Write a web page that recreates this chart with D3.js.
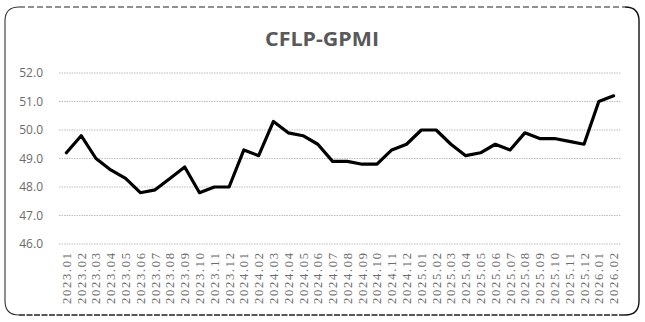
<!DOCTYPE html>
<html>
<head>
<meta charset="utf-8">
<script src="https://cdn.jsdelivr.net/npm/d3@7"></script>
<style>
  html, body { margin: 0; padding: 0; background: #fff; }
  svg { display: block; }
</style>
</head>
<body>
<svg id="chart"></svg>
<script>
'use strict';

const WIDTH = 645;
const HEIGHT = 322;

const months = [
  '2023.01', '2023.02', '2023.03', '2023.04', '2023.05', '2023.06', '2023.07', '2023.08',
  '2023.09', '2023.10', '2023.11', '2023.12', '2024.01', '2024.02', '2024.03', '2024.04',
  '2024.05', '2024.06', '2024.07', '2024.08', '2024.09', '2024.10', '2024.11', '2024.12',
  '2025.01', '2025.02', '2025.03', '2025.04', '2025.05', '2025.06', '2025.07', '2025.08',
  '2025.09', '2025.10', '2025.11', '2025.12', '2026.01', '2026.02',
];

const gpmi = [
  49.2, 49.8, 49.0, 48.6, 48.3, 47.8, 47.9, 48.3,
  48.7, 47.8, 48.0, 48.0, 49.3, 49.1, 50.3, 49.9,
  49.8, 49.5, 48.9, 48.9, 48.8, 48.8, 49.3, 49.5,
  50.0, 50.0, 49.5, 49.1, 49.2, 49.5, 49.3, 49.9,
  49.7, 49.7, 49.6, 49.5, 51.0, 51.2,
];

const yTicks = [46, 47, 48, 49, 50, 51, 52];

const PLOT = { left: 59, right: 621, top: 73, bottom: 244 };

const svg = d3.select('#chart')
  .attr('width', WIDTH)
  .attr('height', HEIGHT)
  .attr('viewBox', `0 0 ${WIDTH} ${HEIGHT}`);

// frame: rounded box, dashed along top and bottom
const fx0 = 5, fx1 = 639, fy0 = 7, fy1 = 315, rad = 14;
svg.append('path')
  .attr('d', `M${fx0 + rad},${fy0} H${fx1 - rad}`)
  .attr('fill', 'none').attr('stroke', '#222').attr('stroke-width', 1.2)
  .attr('stroke-dasharray', '6,3');
svg.append('path')
  .attr('d', `M${fx0 + rad},${fy1} H${fx1 - rad}`)
  .attr('fill', 'none').attr('stroke', '#222').attr('stroke-width', 1.4)
  .attr('stroke-dasharray', '6,1.5');
svg.append('path')
  .attr('d', `M${fx0 + rad},${fy0} Q${fx0},${fy0} ${fx0},${fy0 + rad} V${fy1 - rad} Q${fx0},${fy1} ${fx0 + rad},${fy1}`)
  .attr('fill', 'none').attr('stroke', '#333').attr('stroke-width', 1.1);
svg.append('path')
  .attr('d', `M${fx1 - rad},${fy0} Q${fx1},${fy0} ${fx1},${fy0 + rad} V${fy1 - rad} Q${fx1},${fy1} ${fx1 - rad},${fy1}`)
  .attr('fill', 'none').attr('stroke', '#111').attr('stroke-width', 1.4);

const x = d3.scalePoint()
  .domain(months)
  .range([PLOT.left, PLOT.right])
  .padding(0.5);

const y = d3.scaleLinear()
  .domain([46, 52])
  .range([PLOT.bottom, PLOT.top]);

// title
svg.append('text')
  .attr('x', 322).attr('y', 46)
  .attr('text-anchor', 'middle')
  .attr('font-family', '"Open Sans", sans-serif')
  .attr('font-weight', 700)
  .attr('font-size', 19)
  .attr('fill', '#595959')
  .attr('textLength', 114)
  .attr('lengthAdjust', 'spacingAndGlyphs')
  .text('CFLP-GPMI');

// gridlines
svg.append('g')
  .selectAll('line')
  .data(yTicks)
  .join('line')
  .attr('x1', PLOT.left).attr('x2', PLOT.right)
  .attr('y1', d => y(d)).attr('y2', d => y(d))
  .attr('stroke', '#bdbdbd')
  .attr('stroke-width', 1)
  .attr('stroke-dasharray', '1.5,1');

// y axis labels
const yAxis = svg.append('g')
  .attr('transform', 'translate(43,0)')
  .call(d3.axisLeft(y).tickValues(yTicks).tickFormat(d3.format('.1f')).tickSize(0).tickPadding(0));
yAxis.select('.domain').remove();
yAxis.selectAll('text')
  .attr('font-family', '"Open Sans", sans-serif')
  .attr('font-size', 12)
  .attr('fill', '#6b6b6b');

// x axis labels, rotated
const xAxis = svg.append('g')
  .attr('transform', `translate(0,${PLOT.bottom})`)
  .call(d3.axisBottom(x).tickSize(0).tickPadding(0));
xAxis.select('.domain').remove();
xAxis.selectAll('text')
  .attr('font-family', '"Liberation Serif", serif')
  .attr('font-size', 12.5)
  .attr('fill', '#6b6b6b')
  .attr('text-anchor', 'end')
  .attr('dy', null)
  .attr('transform', 'translate(4,9) rotate(-90)')
  .attr('textLength', 51)
  .attr('lengthAdjust', 'spacing');

// series line
const line = d3.line()
  .x((d, i) => x(months[i]))
  .y(d => y(d));

svg.append('path')
  .datum(gpmi)
  .attr('d', line)
  .attr('fill', 'none')
  .attr('stroke', '#000')
  .attr('stroke-width', 3.2)
  .attr('stroke-linejoin', 'round')
  .attr('stroke-linecap', 'round');
</script>
</body>
</html>
